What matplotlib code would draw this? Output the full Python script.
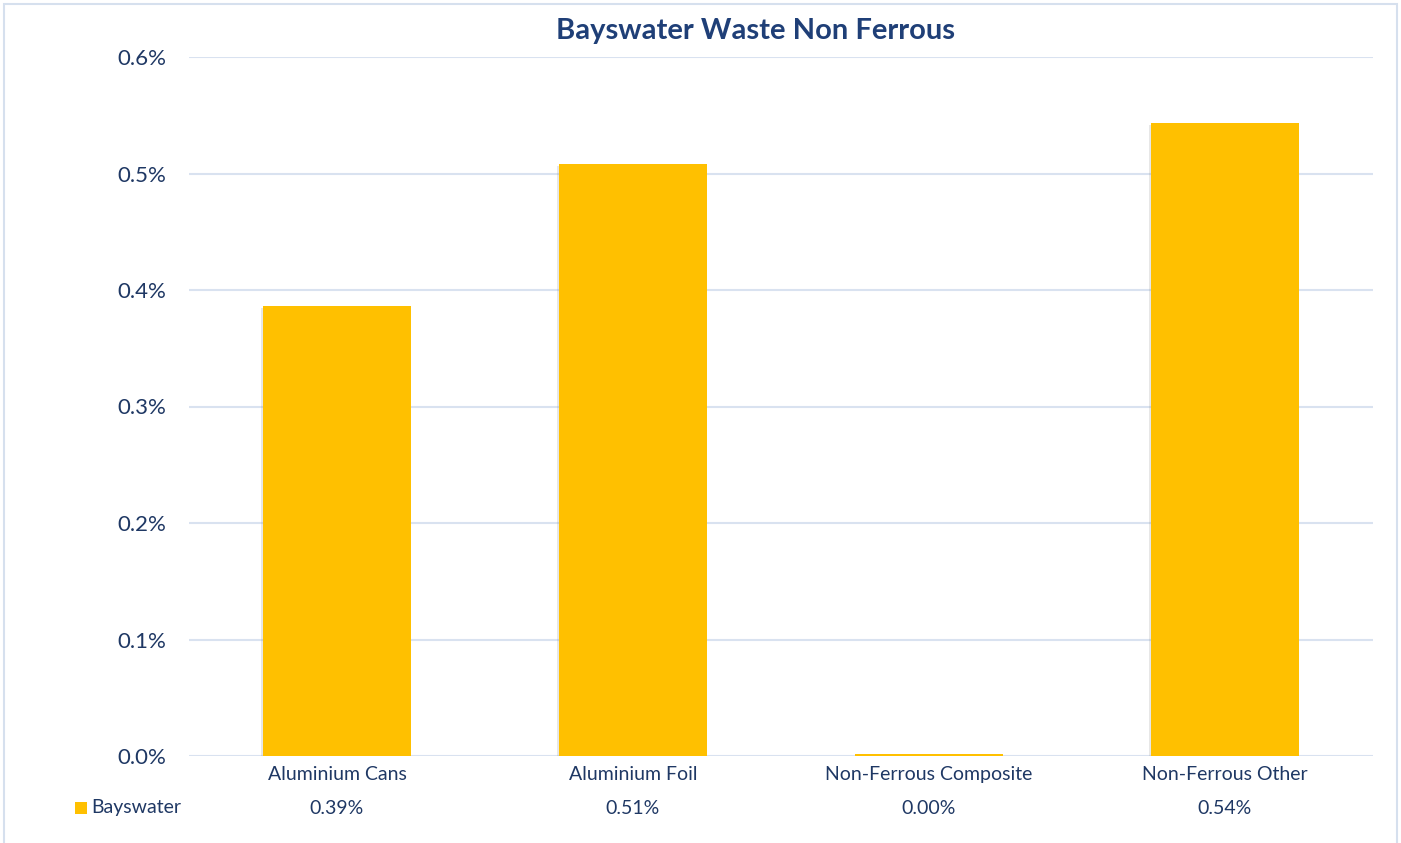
import matplotlib
matplotlib.use("Agg")
import matplotlib.pyplot as plt
from matplotlib.patches import Rectangle
import matplotlib.patheffects as pe

categories = ["Aluminium Cans", "Aluminium Foil", "Non-Ferrous Composite", "Non-Ferrous Other"]
values = [0.386, 0.508, 0.0015, 0.543]
value_labels = ["0.39%", "0.51%", "0.00%", "0.54%"]
series_name = "Bayswater"
yticks = [0.0, 0.1, 0.2, 0.3, 0.4, 0.5, 0.6]
title = "Bayswater Waste Non Ferrous"

W, H = 1401, 843
fig = plt.figure(figsize=(W / 100, H / 100), dpi=100)
plt.rcParams['font.family'] = ['Lato', 'DejaVu Sans']
text_col = "#1F3864"
grid_col = "#D9E2F0"
bar_col = "#FFC000"

# figure border
fig.add_artist(Rectangle((4 / W, -0.02), (1397 - 4) / W, 1.02 - 4 / H,
                         transform=fig.transFigure, fill=False,
                         edgecolor="#D6E0EE", linewidth=1.5))

left, right = 189 / W, 1373 / W
top, bottom = 57 / H, 756 / H
ax = fig.add_axes([left, 1 - bottom, right - left, bottom - top])
x = list(range(len(categories)))
bars = ax.bar(x, values, width=0.5, color=bar_col, zorder=3)
for b in bars:
    b.set_path_effects([pe.SimplePatchShadow(offset=(-1.5, -1.5), alpha=0.2, shadow_rgbFace="#888888"), pe.Normal()])
ax.set_xlim(-0.5, len(categories) - 0.5)
ax.set_ylim(0, 0.6)
ax.set_yticks(yticks)
ax.set_yticklabels([f"{t:.1f}%" for t in yticks], fontsize=16, color=text_col)
ax.tick_params(axis='y', length=0, pad=16.5)
ax.set_xticks(x)
ax.set_xticklabels(categories, fontsize=14, color=text_col)
ax.tick_params(axis='x', length=0, pad=7.5)
ax.grid(axis='y', color=grid_col, linewidth=1.5, zorder=0)
for s in ax.spines.values():
    s.set_visible(False)

fig.text(755 / W, 1 - 31 / H, title, ha='center', va='center', fontsize=21,
         fontweight='bold', color="#1F3F77")

# data table row
row_y = 808
for xi, lab in zip(x, value_labels):
    xd = ax.transData.transform((xi, 0))[0]
    fig.text(xd / W, 1 - row_y / H, lab, ha='center', va='center', fontsize=14, color=text_col)
fig.add_artist(Rectangle((75 / W, 1 - 814 / H), 12 / W, 12 / H, transform=fig.transFigure,
                         facecolor=bar_col, edgecolor='none'))
fig.text(91 / W, 1 - row_y / H, series_name, ha='left', va='center', fontsize=14, color=text_col)

fig.savefig("out.png", dpi=100)
